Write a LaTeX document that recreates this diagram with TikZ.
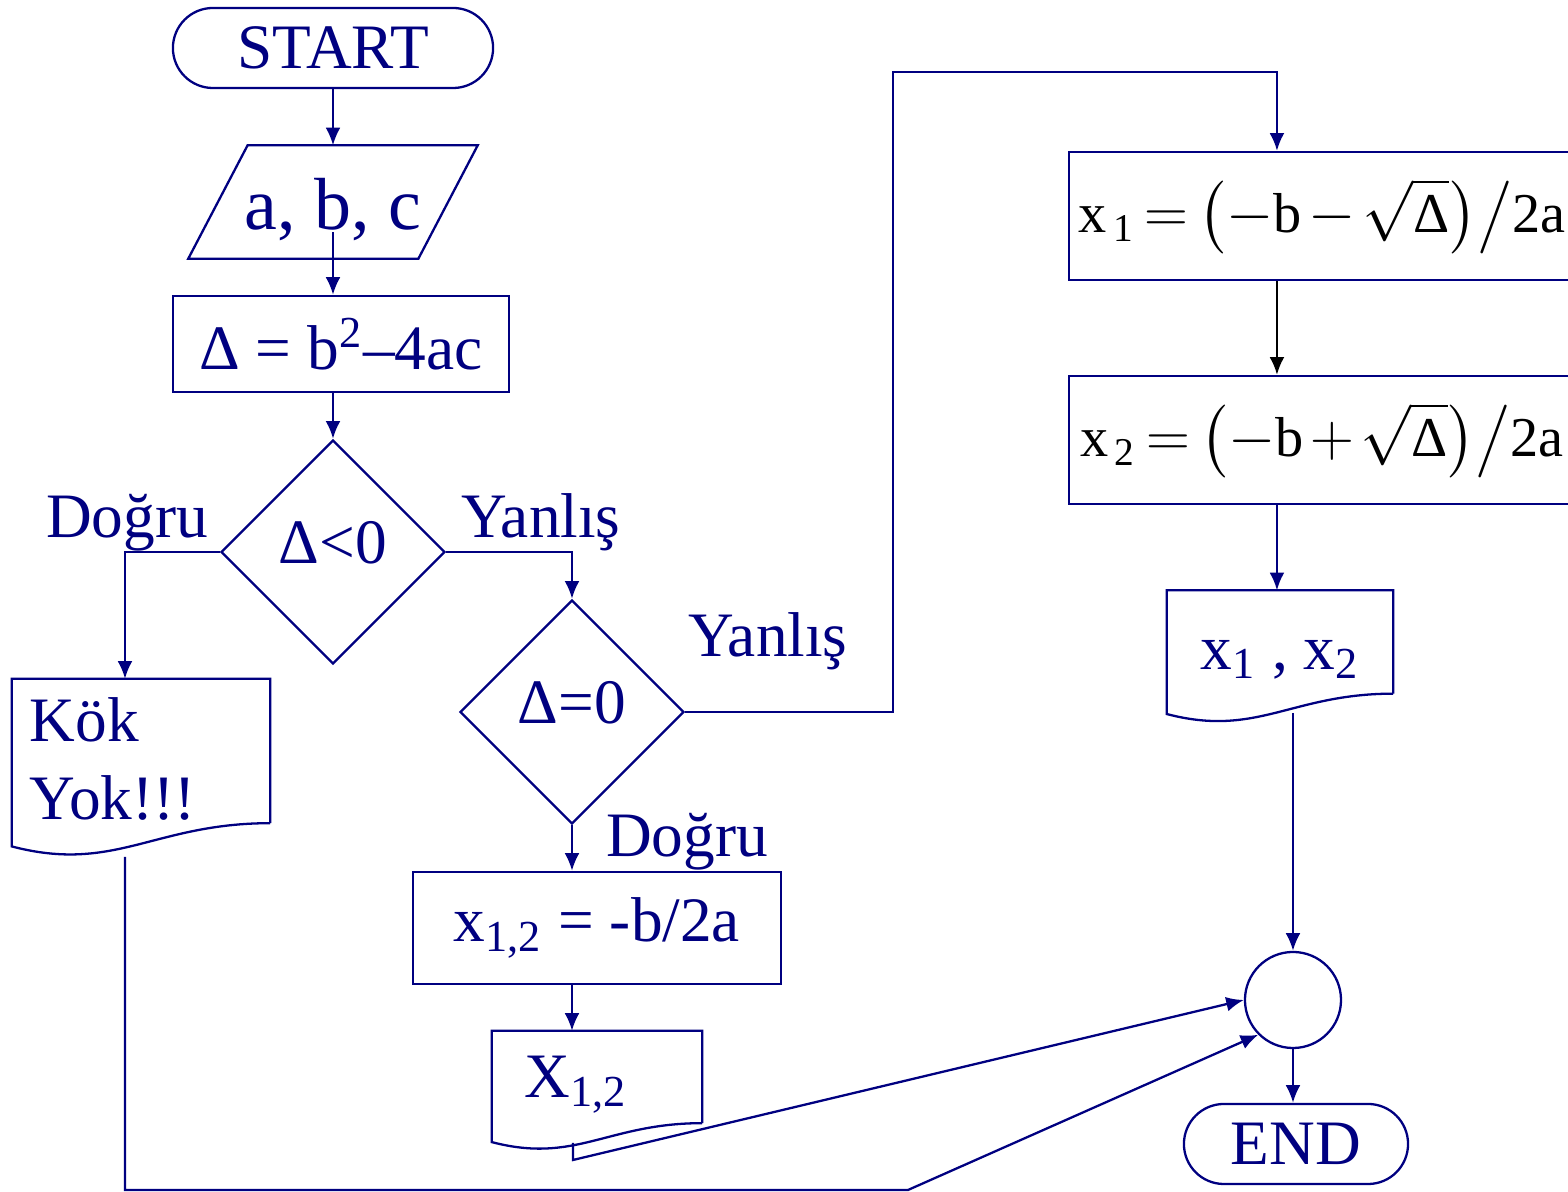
\documentclass[tikz,border=0pt]{standalone}
\usepackage{fontspec}
\setmainfont{Liberation Serif}
\usepackage{amsmath}
\usetikzlibrary{shapes.geometric,arrows.meta,calc}
\definecolor{navy}{RGB}{0,0,128}

% document symbol: straight top, wavy bottom
\newcommand{\wavedoc}[1]{%
  \draw let \p1=(#1.south west), \p2=(#1.south east), \n1={\x2-\x1} in
    (#1.south east) -- (#1.north east) -- (#1.north west) -- (\x1,\y1-0.09*\n1)
    .. controls (\x1+0.4*\n1,\y1-0.195*\n1) and (\x1+0.55*\n1,\y2) .. (#1.south east);}
% tighter spacing for the root formulas
\newcommand{\rootsp}{\thickmuskip=3mu\relax\medmuskip=2mu\relax}

\begin{document}
\begin{tikzpicture}[x=0.01cm, y=-0.01cm, navy, line width=0.65pt,
    font=\fontsize{18}{22}\selectfont,
    arr/.style={-{Latex[length=5pt,width=4.2pt]}},
    box/.style={draw, rectangle, inner sep=0pt},
    term/.style={draw, rectangle, rounded corners=0.4cm, minimum height=0.8cm, inner sep=0pt},
    test/.style={draw, diamond, minimum width=2.24cm, minimum height=2.24cm, inner sep=0pt},
    doc/.style={rectangle, inner sep=0pt},
    eq/.style={box, minimum width=5.06cm, minimum height=1.28cm, text=black,
               font=\fontsize{16}{20}\selectfont}]
    \useasboundingbox (0,0) rectangle (1568,1192);

    \node[term, minimum width=3.2cm] (start) at (333,48) {START};
    \node[minimum width=2.87cm, minimum height=1.11cm, inner sep=0pt,
          font=\fontsize{21}{25}\selectfont] (abc) at (333,202) {\rule{0pt}{0.66cm}a, b, c};
    \draw (abc.south west) -- ([xshift=2.3cm]abc.south west) -- (abc.north east)
          -- ([xshift=-2.3cm]abc.north east) -- cycle;
    \node[box, minimum width=3.36cm, minimum height=0.96cm] (delta) at (341,344) {Δ = b\textsuperscript{2}–4ac};
    \node[test] (d1) at (333,552) {\raisebox{0.2cm}{Δ<0}};
    \node[test] (d2) at (572,712) {\raisebox{0.2cm}{Δ=0}};
    \node[doc, text width=2.22cm, inner xsep=0.17cm, minimum height=1.42cm, align=left] (kok) at (141,751)
        {\rule{0pt}{0.6cm}Kök\\Yok!!!};
    \node[box, minimum width=3.68cm, minimum height=1.12cm] (x12) at (597,928) {$\text{x}_{\text{1,2}}$ = -b/2a};
    \node[doc, text width=1.44cm, inner xsep=0.32cm, minimum height=0.9cm, align=left] (xdoc) at (597,1077)
        {\rule{0pt}{0.56cm}X$_{\text{1,2}}$};
    \node[eq] (rx1) at (1322,216)
        {$\rootsp\text{x}_{\,\text{1}} = \left(-\text{b}-\sqrt{\text{Δ}}\right)\!\big/\text{2a}$};
    \node[eq] (rx2) at (1322,440)
        {$\rootsp\text{x}_{\,\text{2}} = \left(-\text{b}+\sqrt{\text{Δ}}\right)\!\big/\text{2a}$};
    \node[doc, minimum width=2.24cm, minimum height=1.01cm] (out) at (1280,642)
        {\rule{0pt}{0.64cm}$\text{x}_{\text{1}}$ , $\text{x}_{\text{2}}$};
    \node[draw, circle, minimum size=0.96cm, inner sep=0pt] (join) at (1293,1000) {};
    \node[term, minimum width=2.24cm] (end) at (1296,1144) {END};

    \wavedoc{kok}
    \wavedoc{xdoc}
    \wavedoc{out}

    \node[anchor=base] (yes1) at (127,538) {Doğru};
    \node[anchor=base] (no1) at (541,538) {Yanlış};
    \node[anchor=base] (no2) at (768,657) {Yanlış};
    \node[anchor=base] (yes2) at (687,857) {Doğru};

    \coordinate (bend) at (893,72);
    \coordinate (kokout) at (125,857);
    \coordinate (xout) at (573,1143);
    \coordinate (outout) at (1293,713);

    \draw[arr] (start) -- (abc.north);
    \draw[arr] ([yshift=-0.3cm]abc.center) -- (abc.center |- delta.north);
    \draw[arr] (d1.north |- delta.south) -- (d1.north);
    \draw[arr] (d1.west) -| ([xshift=-0.16cm]kok.north);
    \draw[arr] (d1.east) -| (d2.north);
    \draw[arr] (d2.east) -| (bend) -| ([xshift=-0.45cm]rx1.north);
    \draw[arr] (d2.south) -- (d2.south |- x12.north);
    \draw[arr] (d2.south |- x12.south) -- (d2.south |- xdoc.north);
    \draw[arr] (xout) -- ++(0,17) -- (join.west);
    \draw[arr, black] ([xshift=-0.45cm]rx1.south) -- ([xshift=-0.45cm]rx2.north);
    \draw[arr] ([xshift=-0.45cm]rx2.south) -- ([xshift=-0.45cm]rx2.south |- out.north);
    \draw[arr] (outout) -- (join.north);
    \draw[arr] (join.south) -- (join.south |- end.north);
    \draw[arr] (kokout) -- (125,1190) -- (908,1190) -- (join.225);
\end{tikzpicture}
\end{document}
